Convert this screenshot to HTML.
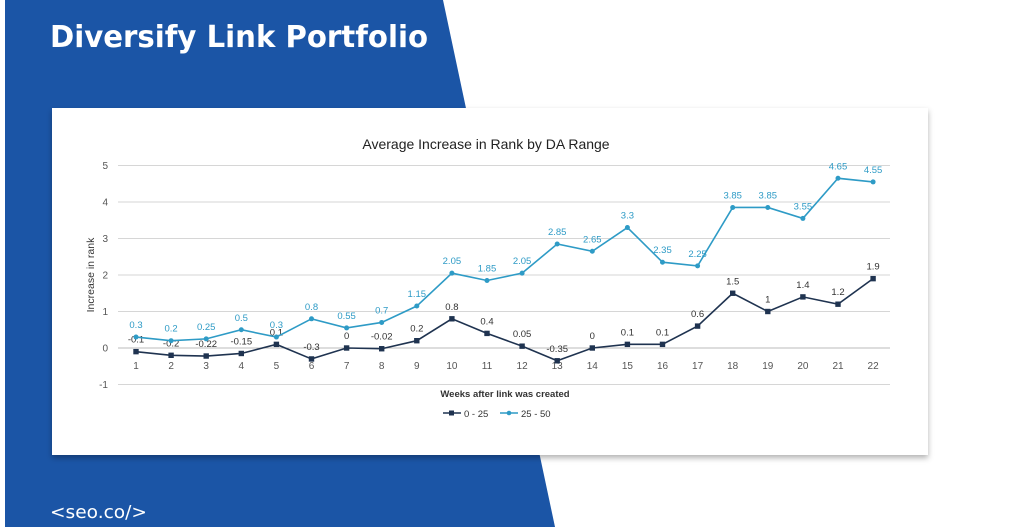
<!DOCTYPE html>
<html><head><meta charset="utf-8"><style>
html,body{margin:0;padding:0;background:#fff;}
svg{display:block;font-family:"Liberation Sans",sans-serif;}
</style></head><body>
<svg id="s" width="1010" height="527" viewBox="0 0 1010 527" xmlns="http://www.w3.org/2000/svg">
<defs><filter id="sh" x="-5%" y="-5%" width="110%" height="115%"><feDropShadow dx="0" dy="3" stdDeviation="3" flood-color="#000" flood-opacity="0.3"/></filter></defs>
<rect width="1010" height="527" fill="#fff"/>
<polygon points="5,0 443,0 555,527 5,527" fill="#1b55a6"/>
<text x="50" y="47" font-size="30" font-weight="bold" fill="#fff" font-family="DejaVu Sans,sans-serif" textLength="378" lengthAdjust="spacingAndGlyphs">Diversify Link Portfolio</text>
<text x="50" y="518" font-size="18" fill="#fff" font-family="DejaVu Sans,sans-serif" textLength="97" lengthAdjust="spacingAndGlyphs">&lt;seo.co/&gt;</text>
<rect x="52" y="108" width="876" height="347" fill="#fff" filter="url(#sh)"/>
<text x="486" y="149" font-size="14" text-anchor="middle" fill="#222">Average Increase in Rank by DA Range</text>
<text transform="translate(94,275) rotate(-90)" font-size="10.5" text-anchor="middle" fill="#333">Increase in rank</text>
<text x="505" y="397" font-size="9.5" font-weight="bold" text-anchor="middle" fill="#333">Weeks after link was created</text>
<g id="g"></g>
<g font-size="9.5" fill="#333">
<line x1="443" y1="413" x2="461" y2="413" stroke="#1f3350" stroke-width="1.5"/><rect x="449" y="410.5" width="5" height="5" fill="#1f3350"/><text x="464" y="417">0 - 25</text>
<line x1="500" y1="413" x2="518" y2="413" stroke="#2e9bc6" stroke-width="1.5"/><circle cx="509" cy="413" r="2.3" fill="#2e9bc6"/><text x="521" y="417">25 - 50</text>
</g>
</svg>
<script>
var A=[-0.1,-0.2,-0.22,-0.15,0.1,-0.3,0,-0.02,0.2,0.8,0.4,0.05,-0.35,0,0.1,0.1,0.6,1.5,1,1.4,1.2,1.9];
var B=[0.3,0.2,0.25,0.5,0.3,0.8,0.55,0.7,1.15,2.05,1.85,2.05,2.85,2.65,3.3,2.35,2.25,3.85,3.85,3.55,4.65,4.55];
function X(i){return 136+i*35.1;}function Y(v){return 348-v*36.5;}
var h='';
for(var v=-1;v<=5;v++){h+='<line x1="118" x2="890" y1="'+Y(v)+'" y2="'+Y(v)+'" stroke="'+(v==0?'#bbb':'#d6d6d6')+'" stroke-width="1"/>';
h+='<text x="108" y="'+(Y(v)+3.5)+'" font-size="10" fill="#555" text-anchor="end">'+v+'</text>';}
for(var i=0;i<22;i++)h+='<text x="'+X(i)+'" y="369" font-size="10" fill="#555" text-anchor="middle">'+(i+1)+'</text>';
function series(d,c,sq){var p=d.map(function(v,i){return X(i)+','+Y(v)}).join(' ');
var s='<polyline points="'+p+'" fill="none" stroke="'+c+'" stroke-width="1.6"/>';
d.forEach(function(v,i){s+=sq?'<rect x="'+(X(i)-2.7)+'" y="'+(Y(v)-2.7)+'" width="5.4" height="5.4" fill="'+c+'"/>':'<circle cx="'+X(i)+'" cy="'+Y(v)+'" r="2.5" fill="'+c+'"/>';
s+='<text x="'+X(i)+'" y="'+(Y(v)-9)+'" font-size="9.5" fill="'+(sq?'#333':'#2e9bc6')+'" text-anchor="middle">'+v+'</text>';});return s;}
h+=series(A,'#1f3350',true)+series(B,'#2e9bc6',false);
document.getElementById('g').innerHTML=h;
</script>
</body></html>
